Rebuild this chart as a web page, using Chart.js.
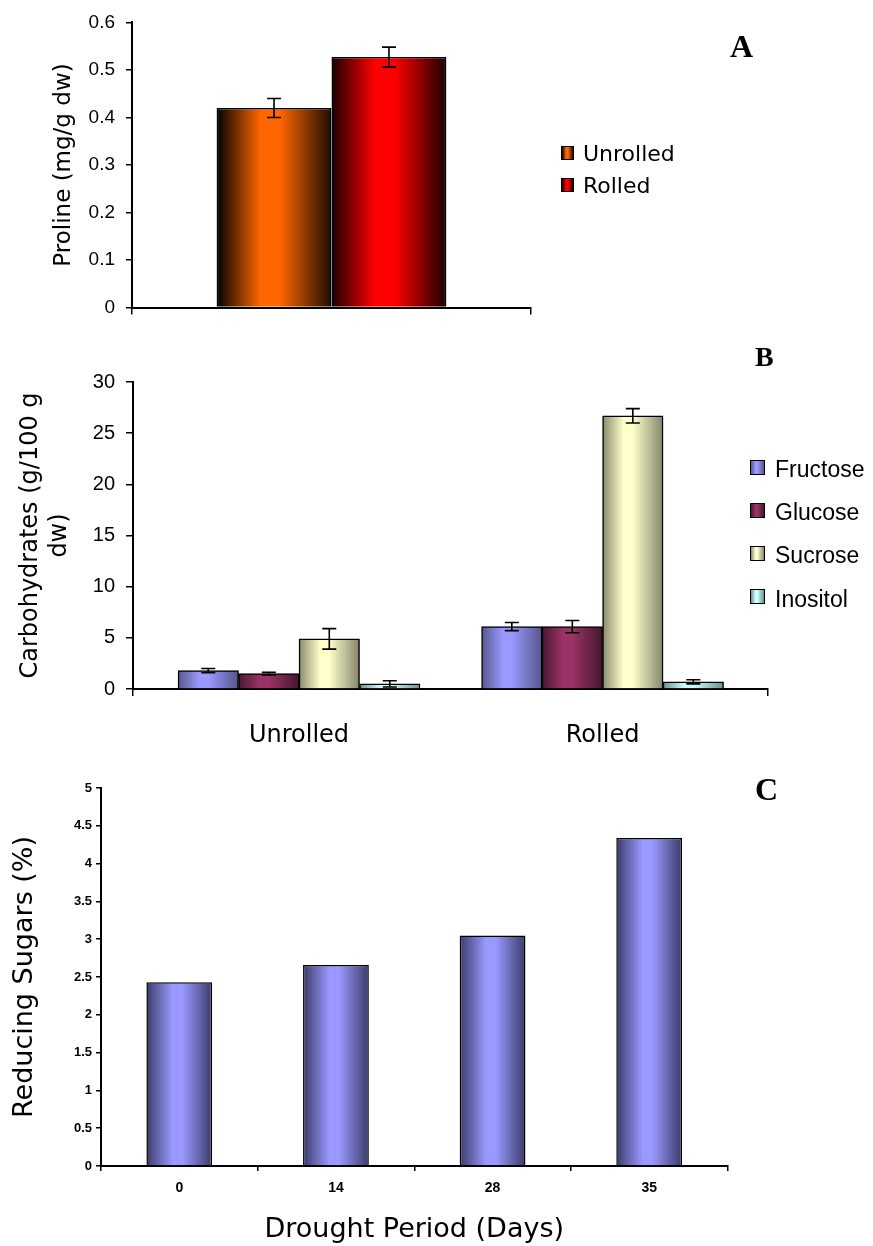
<!DOCTYPE html>
<html>
<head>
<meta charset="utf-8">
<title>Proline, carbohydrates and reducing sugars</title>
<script src="https://cdn.jsdelivr.net/npm/chart.js@4"></script>
<style>
  html, body { margin: 0; padding: 0; background: #fff; }
  #page { position: relative; width: 873px; height: 1246px; overflow: hidden; }
  canvas { position: absolute; left: 0; }
  .letter { position: absolute; font-family: "Liberation Serif", "Times New Roman", serif; font-weight: bold; line-height: 1; color: #000; }
  .key { position: absolute; box-sizing: border-box; border: 1.5px solid #000; }
  .keytext { position: absolute; line-height: 1; color: #000; white-space: nowrap; }
</style>
</head>
<body>
<div id="page">
  <canvas id="chartA" width="873" height="330" style="top:0px"></canvas>
  <canvas id="chartB" width="873" height="420" style="top:330px"></canvas>
  <canvas id="chartC" width="873" height="496" style="top:750px"></canvas>
  <div class="letter" style="left:730px;top:30px;font-size:32px;">A</div>
  <div class="letter" style="left:755px;top:343px;font-size:28px;">B</div>
  <div class="letter" style="left:755px;top:773px;font-size:32px;">C</div>
</div>
<script>
// ---- Panel A: proline content of leaves ----
const prolineGroups = [''];
const prolineSeries = ['Unrolled', 'Rolled'];
const prolineValues = [0.42, 0.527];
const prolineErrors = [0.02, 0.021];
const prolineTicks = [0, 0.1, 0.2, 0.3, 0.4, 0.5, 0.6];
const prolineTickLabels = ['0', '0.1', '0.2', '0.3', '0.4', '0.5', '0.6'];

// ---- Panel B: soluble carbohydrates ----
const carbCategories = ['Unrolled', 'Rolled'];
const carbSeries = ['Fructose', 'Glucose', 'Sucrose', 'Inositol'];
const fructose = [1.8, 6.1];
const glucose = [1.5, 6.1];
const sucrose = [4.9, 26.7];
const inositol = [0.5, 0.7];
const fructoseErr = [0.2, 0.4];
const glucoseErr = [0.12, 0.6];
const sucroseErr = [1.0, 0.7];
const inositolErr = [0.3, 0.2];
const carbTicks = [0, 5, 10, 15, 20, 25, 30];
const carbTickLabels = ['0', '5', '10', '15', '20', '25', '30'];

// ---- Panel C: reducing sugars over the drought period ----
const droughtDays = ['0', '14', '28', '35'];
const reducingSugars = [2.43, 2.66, 3.05, 4.34];
const sugarTicks = [0, 0.5, 1, 1.5, 2, 2.5, 3, 3.5, 4, 4.5, 5];
const sugarTickLabels = ['0', '0.5', '1', '1.5', '2', '2.5', '3', '3.5', '4', '4.5', '5'];

// Shaded (cylinder-like) fills: [offset, colour] stops across each bar
const prolineFills = [
  [[0, '#000000'], [0.38, '#ff6600'], [0.55, '#ff6600'], [1, '#1e0c00']],
  [[0, '#1a0000'], [0.38, '#ff0000'], [0.55, '#ff0000'], [1, '#1a0000']]
];
const carbFills = [
  [[0, '#57578f'], [0.35, '#9999ff'], [0.5, '#9999ff'], [1, '#55558a']],
  [[0, '#4a1830'], [0.35, '#993366'], [0.5, '#993366'], [1, '#45162d']],
  [[0, '#8a8a6c'], [0.35, '#ffffcc'], [0.5, '#ffffcc'], [1, '#85856a']],
  [[0, '#6c8f8f'], [0.35, '#ccffff'], [0.5, '#ccffff'], [1, '#6c8f8f']]
];
const sugarFill = [[0, '#3b3b6a'], [0.4, '#9999ff'], [0.55, '#9999ff'], [1, '#3b3b6a']];

Chart.defaults.font.family = "'DejaVu Sans', Verdana, sans-serif";
Chart.defaults.color = '#000';

// Horizontal gradient spanning the bar element that is being drawn
function barGradient(stops) {
  return (c) => {
    const el = c.element;
    if (!el || !Number.isFinite(el.x) || !Number.isFinite(el.width) || el.width <= 0) {
      return stops[1][1];
    }
    const g = c.chart.ctx.createLinearGradient(el.x - el.width / 2, 0, el.x + el.width / 2, 0);
    stops.forEach(([o, col]) => g.addColorStop(o, col));
    return g;
  };
}

function cssGradient(stops) {
  return 'linear-gradient(to right, ' + stops.map(([o, c]) => c + ' ' + (o * 100) + '%').join(', ') + ')';
}

// Error bars (value ± error) for datasets carrying an errorBars array
const errorBars = {
  id: 'errorBars',
  afterDatasetsDraw(chart) {
    const ctx = chart.ctx;
    const yScale = chart.scales.y;
    chart.data.datasets.forEach((ds, di) => {
      if (!ds.errorBars) return;
      const meta = chart.getDatasetMeta(di);
      meta.data.forEach((bar, i) => {
        const err = ds.errorBars[i];
        if (err == null) return;
        const v = meta.controller.getParsed(i).y;
        const yHi = yScale.getPixelForValue(v + err);
        const yLo = yScale.getPixelForValue(v - err);
        const cap = 7;
        ctx.save();
        ctx.strokeStyle = '#000';
        ctx.lineWidth = 1.6;
        ctx.beginPath();
        ctx.moveTo(bar.x, yHi); ctx.lineTo(bar.x, yLo);
        ctx.moveTo(bar.x - cap, yHi); ctx.lineTo(bar.x + cap, yHi);
        ctx.moveTo(bar.x - cap, yLo); ctx.lineTo(bar.x + cap, yLo);
        ctx.stroke();
        ctx.restore();
      });
    });
  }
};

const axisLine = { display: true, color: '#000', width: 2 };
const tickMarks = (len) => ({ drawOnChartArea: false, drawTicks: true, tickLength: len, color: '#000', lineWidth: 1.5 });
const common = {
  responsive: false,
  animation: false,
  events: [],
  plugins: { legend: { display: false }, tooltip: { enabled: false }, title: { display: false } }
};

// ---- Panel A ----
const chartA = new Chart(document.getElementById('chartA'), {
  type: 'bar',
  data: {
    labels: prolineGroups,
    datasets: prolineSeries.map((name, i) => ({
      label: name,
      data: [prolineValues[i]],
      errorBars: [prolineErrors[i]],
      backgroundColor: barGradient(prolineFills[i]),
      borderColor: '#000',
      borderWidth: 1.5
    }))
  },
  options: {
    ...common,
    layout: { padding: { top: 21, right: 342, left: 0, bottom: 0 } },
    datasets: { bar: { categoryPercentage: 0.576, barPercentage: 1 } },
    scales: {
      x: {
        grid: { ...tickMarks(7), offset: true },
        border: axisLine,
        ticks: { display: false },
        afterFit: (s) => { s.height = 18; }
      },
      y: {
        min: 0, max: 0.6,
        afterBuildTicks: (s) => { s.ticks = prolineTicks.map(v => ({ value: v })); },
        ticks: {
          callback: (v, i) => prolineTickLabels[i],
          font: { family: "'Liberation Sans', Arial, sans-serif", size: 19 },
          padding: 11
        },
        grid: tickMarks(6),
        border: axisLine,
        title: {
          display: true, text: 'Proline (mg/g dw)',
          font: { size: 23 }, padding: { top: 50, bottom: 0 }
        },
        afterFit: (s) => { s.width = 132; }
      }
    }
  },
  plugins: [errorBars]
});
chartA.update();

// ---- Panel B ----
const carbValues = [fructose, glucose, sucrose, inositol];
const carbErrors = [fructoseErr, glucoseErr, sucroseErr, inositolErr];
const chartB = new Chart(document.getElementById('chartB'), {
  type: 'bar',
  data: {
    datasets: carbSeries.map((name, i) => ({
      label: name,
      data: carbValues[i].map((v, k) => ({ x: k, y: v })),
      errorBars: carbErrors[i],
      backgroundColor: barGradient(carbFills[i]),
      borderColor: '#000',
      borderWidth: 1.5
    }))
  },
  options: {
    ...common,
    layout: { padding: { top: 52, right: 105, left: 0, bottom: 0 } },
    datasets: { bar: { barThickness: 60.5 } },
    scales: {
      x: {
        type: 'linear',
        min: -0.547, max: 1.545,
        offset: false,
        afterBuildTicks: (s) => {
          s.ticks = [s.min].concat(carbCategories.map((c, k) => k), [s.max]).map(v => ({ value: v }));
        },
        grid: {
          ...tickMarks(7), offset: false,
          color: (c) => (c.tick && Number.isInteger(c.tick.value)) ? 'rgba(0,0,0,0)' : '#000'
        },
        border: axisLine,
        ticks: {
          autoSkip: false, maxRotation: 0,
          callback: (v) => Number.isInteger(v) ? carbCategories[v] : '',
          font: { size: 24 },
          padding: 25
        },
        afterFit: (s) => { s.height = 61; }
      },
      y: {
        min: 0, max: 30,
        afterBuildTicks: (s) => { s.ticks = carbTicks.map(v => ({ value: v })); },
        ticks: {
          callback: (v, i) => carbTickLabels[i],
          font: { family: "'Liberation Sans', Arial, sans-serif", size: 20 },
          padding: 11
        },
        grid: tickMarks(7),
        border: axisLine,
        title: {
          display: true, text: ['Carbohydrates (g/100 g', 'dw)'],
          font: { size: 24 }, padding: { top: 16.6, bottom: 0 }
        },
        afterFit: (s) => { s.width = 133; }
      }
    }
  },
  plugins: [errorBars]
});
chartB.update();

// ---- Panel C ----
const chartC = new Chart(document.getElementById('chartC'), {
  type: 'bar',
  data: {
    labels: droughtDays,
    datasets: [{
      label: 'Reducing sugars',
      data: reducingSugars,
      backgroundColor: barGradient(sugarFill),
      borderColor: '#000',
      borderWidth: 1.5
    }]
  },
  options: {
    ...common,
    layout: { padding: { top: 38, right: 145.5, left: 0, bottom: 0 } },
    datasets: { bar: { categoryPercentage: 0.42, barPercentage: 1 } },
    scales: {
      x: {
        grid: { ...tickMarks(5), offset: true },
        border: axisLine,
        ticks: {
          font: { family: "'Liberation Sans', Arial, sans-serif", size: 14, weight: 'bold' },
          padding: 8.6, maxRotation: 0
        },
        title: {
          display: true, text: 'Drought Period (Days)',
          font: { size: 27 }, padding: { top: 0, bottom: 0 }
        },
        afterFit: (s) => { s.height = 80; }
      },
      y: {
        min: 0, max: 5,
        afterBuildTicks: (s) => { s.ticks = sugarTicks.map(v => ({ value: v })); },
        ticks: {
          callback: (v, i) => sugarTickLabels[i],
          font: { family: "'Liberation Sans', Arial, sans-serif", size: 13, weight: 'bold' },
          padding: 4
        },
        grid: tickMarks(5),
        border: axisLine,
        title: {
          display: true, text: 'Reducing Sugars (%)',
          font: { size: 27 }, padding: { top: 8.8, bottom: 0 }
        },
        afterFit: (s) => { s.width = 101; }
      }
    }
  }
});
chartC.update();

// ---- Legends ----
function addLegend(names, fills, o) {
  const page = document.getElementById('page');
  names.forEach((name, i) => {
    const cy = o.y0 + i * o.dy;
    const box = document.createElement('div');
    box.className = 'key';
    box.style.left = o.x + 'px';
    box.style.top = (cy - o.h / 2) + 'px';
    box.style.width = o.w + 'px';
    box.style.height = o.h + 'px';
    box.style.background = cssGradient(fills[i]);
    page.appendChild(box);
    const t = document.createElement('div');
    t.className = 'keytext';
    t.textContent = name;
    t.style.left = o.tx + 'px';
    t.style.top = (cy - o.shift) + 'px';
    t.style.font = o.font;
    page.appendChild(t);
  });
}
addLegend(prolineSeries, prolineFills, {
  x: 561, y0: 152.5, dy: 32, w: 13, h: 14, tx: 583, shift: 11.5,
  font: "22px 'DejaVu Sans', Verdana, sans-serif"
});
addLegend(carbSeries, carbFills, {
  x: 750, y0: 467, dy: 43.3, w: 15, h: 15, tx: 775, shift: 11.3,
  font: "23px 'Liberation Sans', Arial, sans-serif"
});
</script>
</body>
</html>
